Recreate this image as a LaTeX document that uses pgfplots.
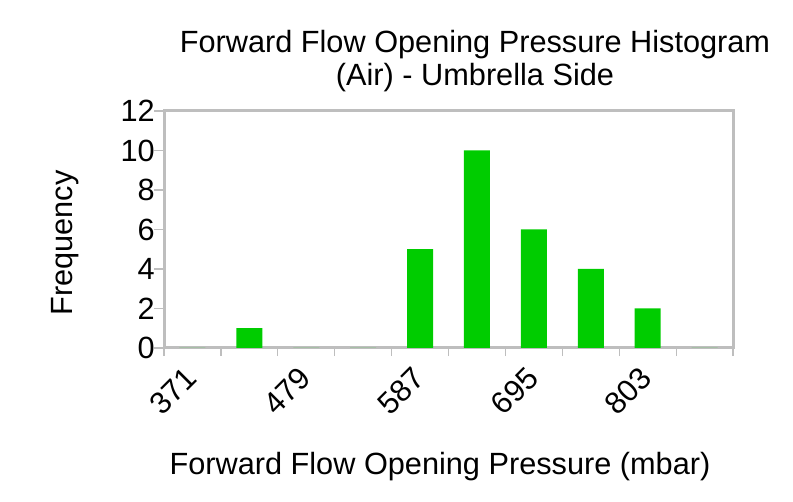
\documentclass[border=0pt]{standalone}
\usepackage{pgfplots}
\pgfplotsset{compat=1.18}
\usepackage{fontspec}
\setmainfont{Liberation Sans}
\definecolor{bargreen}{RGB}{0,204,0}
\definecolor{framegray}{RGB}{190,190,190}
\begin{document}
\fontsize{30.7}{36}\selectfont
\begin{tikzpicture}[x=1pt,y=1pt]
\useasboundingbox (0,0) rectangle (793,501);
\begin{axis}[
  at={(164pt,153pt)}, anchor=south west,
  scale only axis, width=569pt, height=237pt,
  xmin=0.5, xmax=10.5, ymin=0, ymax=12,
  axis background/.style={draw=framegray, line width=3pt},
  axis line style={draw=framegray, line width=3pt},
  tick pos=left, tick align=outside,
  xtick={1,3,5,7,9}, xticklabels={371,479,587,695,803},
  minor xtick={0.5,1.5,...,10.5},
  ytick={0,2,...,12},
  major tick length=10pt, minor tick length=8pt,
  tick style={framegray, line width=1.2pt},
  major x tick style={draw=none},
  /pgf/number format/assume math mode=true,
  ticklabel style={font=\fontsize{30.7}{36}\selectfont},
  xticklabel style={xshift=-1pt, yshift=-15pt, rotate=45, anchor=east, inner sep=0pt},
  yticklabel style={inner sep=0pt, xshift=1pt},
  ybar, bar width=26pt,
]
\addplot[draw=none, fill=bargreen] coordinates {(1,0) (2,1) (3,0) (4,0) (5,5) (6,10) (7,6) (8,4) (9,2) (10,0)};
\end{axis}
\node[anchor=base] at (475,448) {Forward Flow Opening Pressure Histogram};
\node[anchor=base] at (475,415) {(Air) - Umbrella Side};
\node[anchor=base] at (440,27) {Forward Flow Opening Pressure (mbar)};
\node[anchor=base, rotate=90] at (72,258) {Frequency};
\end{tikzpicture}
\end{document}
